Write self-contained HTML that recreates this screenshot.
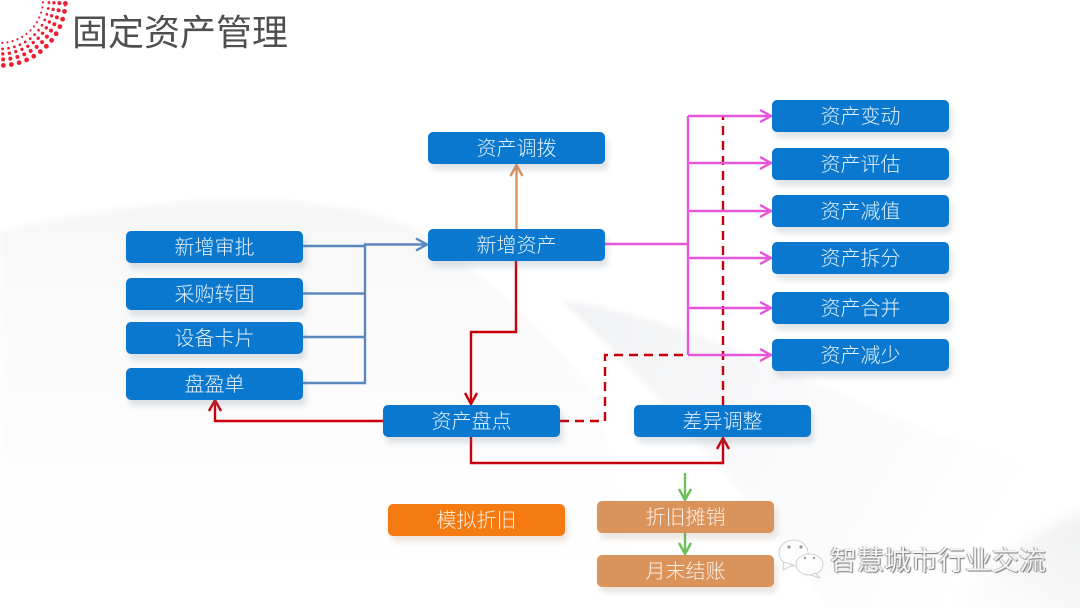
<!DOCTYPE html>
<html lang="zh">
<head>
<meta charset="utf-8">
<title>固定资产管理</title>
<style>
html,body{margin:0;padding:0;background:#fff}
#p{position:relative;width:1080px;height:608px;overflow:hidden;background:#fff;font-family:"Liberation Sans","Noto Sans CJK SC",sans-serif}
svg{position:absolute;left:0;top:0}
.b{position:absolute;width:177px;height:32px;line-height:35px;border-radius:5px;background:#0a78ce;color:#e6f2fb;font-size:20px;text-align:center;box-shadow:3px 6px 6px rgba(110,130,150,.22);font-weight:300}
.o{background:#f57a12;color:#fdeede;box-shadow:3px 6px 6px rgba(170,130,90,.2)}
.t{background:#db935c;color:#fbf0e6;box-shadow:3px 6px 6px rgba(150,130,110,.2)}
#title{position:absolute;left:72px;top:8px;font-size:36px;line-height:50px;color:#4f4f4f;white-space:nowrap}
#wm{position:absolute;left:830px;top:542px;font-size:27px;line-height:38px;color:#f4f4f4;white-space:nowrap;text-shadow:1px 1px 1px #777,-1px 0 1px #999}
</style>
</head>
<body>
<div id="p">
<svg width="1080" height="608" viewBox="0 0 1080 608">
<defs>
<linearGradient id="g1" x1="0" y1="0" x2="0" y2="1"><stop offset="0" stop-color="#f7f7f8"/><stop offset=".5" stop-color="#fcfcfc"/><stop offset="1" stop-color="#ffffff"/></linearGradient>
<linearGradient id="g2" x1="0" y1="0" x2="1" y2=".35"><stop offset="0" stop-color="#f1f2f4"/><stop offset=".5" stop-color="#f9f9fa"/><stop offset="1" stop-color="#ffffff"/></linearGradient>
<linearGradient id="g3" x1="0" y1="1" x2="1" y2="0"><stop offset="0" stop-color="#ffffff"/><stop offset="1" stop-color="#eeeff0"/></linearGradient>
<filter id="f" x="-10%" y="-10%" width="120%" height="120%"><feGaussianBlur stdDeviation="3"/></filter>
<filter id="f2" x="-20%" y="-20%" width="140%" height="140%"><feGaussianBlur stdDeviation="8"/></filter>
<g id="s">
<circle cx="43" cy="0" r="1.1"/><circle cx="49" cy="0" r="1.4"/><circle cx="54" cy="0" r="1.7"/><circle cx="59.500" cy="0" r="2"/><circle cx="65.500" cy="0" r="2.400"/>
</g>
</defs>
<path fill="url(#g1)" filter="url(#f)" d="M0,232 C90,208 190,197 265,200 C340,203 400,212 450,250 C520,310 560,345 600,400 L640,608 L0,608 Z"/>
<path fill="url(#g2)" filter="url(#f)" d="M560,300 C640,370 770,520 830,612 L1090,612 L1090,470 C900,450 760,330 560,300 Z"/>
<path fill="url(#g3)" filter="url(#f2)" d="M1090,510 C1030,530 980,570 940,615 L1090,615 Z"/>
<g fill="#ee1f33">
<use href="#s" transform="rotate(3)"/><use href="#s" transform="rotate(10)"/><use href="#s" transform="rotate(17)"/><use href="#s" transform="rotate(24)"/><use href="#s" transform="rotate(31)"/><use href="#s" transform="rotate(38)"/><use href="#s" transform="rotate(45)"/><use href="#s" transform="rotate(52)"/><use href="#s" transform="rotate(59)"/><use href="#s" transform="rotate(66)"/><use href="#s" transform="rotate(73)"/><use href="#s" transform="rotate(80)"/><use href="#s" transform="rotate(87)"/>
<circle cx="65" cy="6" r="1" opacity=".6"/>
</g>
<g fill="none" stroke-width="2.4" stroke-linejoin="miter">
<g stroke="#5a87c0">
<path d="M303,246H365M303,293.500H365M303,337H365M303,383H365V244.500H427"/>
<path d="M416,238.500L427,244.500L416,250.500"/>
</g>
<g stroke="#d9935f">
<path d="M516.500,229V165"/>
<path d="M510.500,176L516.500,165L522.500,176"/>
</g>
<g stroke="#c8000a">
<path d="M516,261V332H471V404"/>
<path d="M465,393L471,404L477,393"/>
<path d="M383,421H215V400"/>
<path d="M209,411L215,400L221,411"/>
<path d="M471,437V463H723V438"/>
<path d="M717,449L723,438L729,449"/>
</g>
<g stroke="#c8000a" stroke-dasharray="9 6">
<path d="M560,421H605V355H688"/>
<path d="M723,405V116"/>
</g>
<g stroke="#e656d8">
<path d="M605,244H688M688,116V355M688,116H771M688,163H771M688,211H771M688,258H771M688,308H771M688,355H771"/>
<path d="M760,110L771,116L760,122M760,157L771,163L760,169M760,205L771,211L760,217M760,252L771,258L760,264M760,302L771,308L760,314M760,349L771,355L760,361"/>
</g>
<g stroke="#6cc05a">
<path d="M685,473V500M679,489L685,500L691,489"/>
<path d="M685,533V554M679,543L685,554L691,543"/>
</g>
</g>
<g fill="#fdfdfd" stroke="#c8c8c8" stroke-width=".8">
<ellipse cx="793.500" cy="553" rx="14.500" ry="13"/>
<path d="M784,562L783,570L793,565Z"/>
<ellipse cx="809.500" cy="564.500" rx="13.500" ry="10.500"/>
<path d="M815,573L820,578L811,575Z"/>
</g>
<g fill="#999"><circle cx="789" cy="547" r="1.600"/><circle cx="801" cy="547" r="1.600"/><circle cx="805" cy="558" r="1.200"/><circle cx="814" cy="558" r="1.200"/></g>
</svg>

<div id="title">固定资产管理</div>

<div class="b" style="left:126px;top:231px">新增审批</div>
<div class="b" style="left:126px;top:278px">采购转固</div>
<div class="b" style="left:126px;top:322px">设备卡片</div>
<div class="b" style="left:126px;top:368px">盘盈单</div>

<div class="b" style="left:428px;top:132px">资产调拨</div>
<div class="b" style="left:428px;top:229px">新增资产</div>

<div class="b" style="left:772px;top:100px">资产变动</div>
<div class="b" style="left:772px;top:148px">资产评估</div>
<div class="b" style="left:772px;top:195px">资产减值</div>
<div class="b" style="left:772px;top:242px">资产拆分</div>
<div class="b" style="left:772px;top:292px">资产合并</div>
<div class="b" style="left:772px;top:339px">资产减少</div>

<div class="b" style="left:383px;top:405px">资产盘点</div>
<div class="b" style="left:634px;top:405px">差异调整</div>

<div class="b o" style="left:388px;top:504px">模拟折旧</div>
<div class="b t" style="left:597px;top:501px">折旧摊销</div>
<div class="b t" style="left:597px;top:555px">月末结账</div>

<div id="wm">智慧城市行业交流</div>
</div>
</body>
</html>
